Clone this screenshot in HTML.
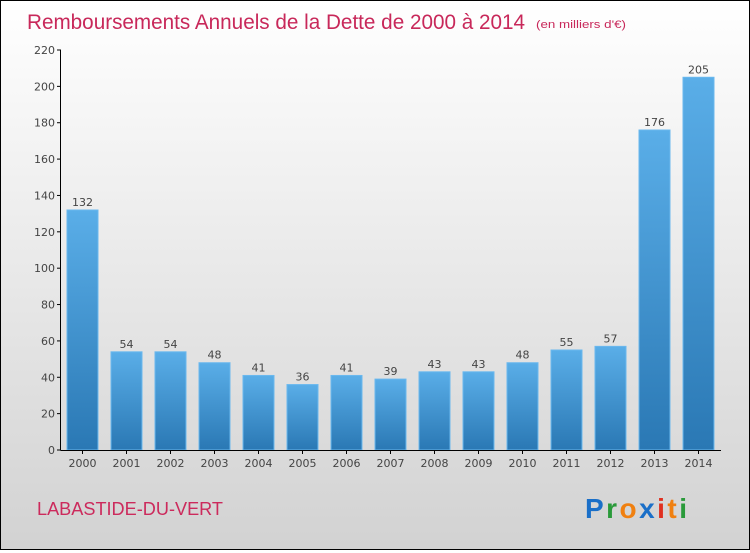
<!DOCTYPE html>
<html><head><meta charset="utf-8"><style>
body{margin:0}
#c{width:748px;height:548px;border:1px solid #000;background:linear-gradient(#ffffff,#d2d2d2);position:relative;font-family:"DejaVu Sans","Liberation Sans",sans-serif}
</style></head><body>
<div id="c">
<svg width="748" height="548">
<defs><linearGradient id="g" x1="0" y1="0" x2="0" y2="1"><stop offset="0" stop-color="#5aaee8"/><stop offset="1" stop-color="#2a78b4"/></linearGradient></defs>
<text x="26" y="28" font-size="21" fill="#c8285a" textLength="498" lengthAdjust="spacingAndGlyphs" font-family="Liberation Sans,sans-serif">Remboursements Annuels de la Dette de 2000 à 2014</text>
<text x="535" y="27" font-size="11" fill="#c8285a" textLength="90" lengthAdjust="spacingAndGlyphs" font-family="Liberation Sans,sans-serif">(en milliers d'€)</text>
<g id="ax"></g>
<text x="36" y="514" font-size="18" fill="#cc2a5c" textLength="186" lengthAdjust="spacingAndGlyphs" font-family="Liberation Sans,sans-serif">LABASTIDE-DU-VERT</text>
<text x="584" y="517" font-size="28" font-family="Liberation Sans,sans-serif" font-weight="bold" textLength="102" lengthAdjust="spacing"><tspan fill="#1a6fc8">P</tspan><tspan fill="#2a9a3a">r</tspan><tspan fill="#f08010">o</tspan><tspan fill="#1a6fc8">x</tspan><tspan fill="#e03020">i</tspan><tspan fill="#f08010">t</tspan><tspan fill="#2a9a3a">i</tspan></text>
</svg></div>
<script>
const years=["2000","2001","2002","2003","2004","2005","2006","2007","2008","2009","2010","2011","2012","2013","2014"];
const values=[132,54,54,48,41,36,41,39,43,43,48,55,57,176,205];
const ticks=[0,20,40,60,80,100,120,140,160,180,200,220];
const ns="http://www.w3.org/2000/svg",g=document.getElementById('ax');
const y=v=>449-v*400/220, x=i=>66+i*44;
function mk(t,a){const e=document.createElementNS(ns,t);for(const k in a)e.setAttribute(k,a[k]);g.appendChild(e);return e;}
ticks.forEach(t=>{let l=mk('line',{x1:56,x2:60,y1:y(t),y2:y(t),stroke:'#000'});
let tx=mk('text',{x:54,y:y(t)+4,'font-size':11,fill:'#444','text-anchor':'end'});tx.textContent=t;});
values.forEach((v,i)=>{let r=mk('rect',{x:x(i),y:y(v),width:31,height:449-y(v),fill:'url(#g)',stroke:'#6ab8ee','stroke-width':1});
let t=mk('text',{x:x(i)+15.5,y:y(v)-4,'font-size':11,fill:'#444','text-anchor':'middle'});t.textContent=v;
let l=mk('line',{x1:x(i)+15.5,x2:x(i)+15.5,y1:449,y2:453,stroke:'#000'});
let yl=mk('text',{x:x(i)+15.5,y:466,'font-size':11,fill:'#444','text-anchor':'middle'});yl.textContent=years[i];});
let a=mk('line',{x1:59.5,x2:59.5,y1:y(220),y2:449.5,stroke:'#000'});
let b=mk('line',{x1:59.5,x2:720,y1:449.5,y2:449.5,stroke:'#000'});
</script>
</body></html>
